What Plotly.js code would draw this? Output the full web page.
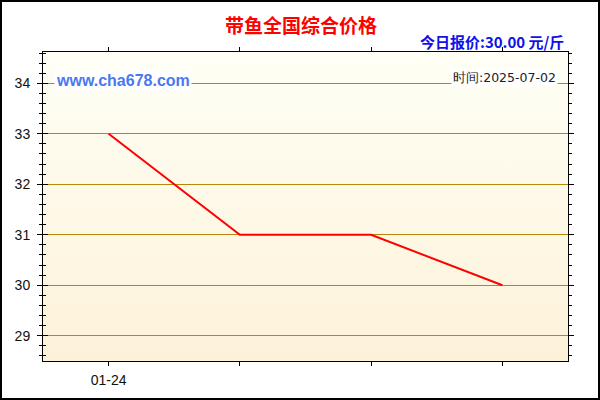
<!DOCTYPE html>
<html>
<head>
<meta charset="utf-8">
<script src="https://cdn.plot.ly/plotly-3.0.1.min.js"></script>
<style>
  html, body { margin: 0; padding: 0; background: #fff; }
  #frame { width: 600px; height: 400px; box-sizing: border-box; border: 2px solid #000; }
  #chart { width: 596px; height: 396px; }
</style>
</head>
<body>
<div id="frame"><div id="chart"></div></div>
<script>
// values
var tickLabels = ['01-24', '', '', ''];
var prices = [33, 31, 31, 30];
var titleText = '带鱼全国综合价格';
var todayText = '今日报价:30.00 元/斤';
var siteText = 'www.cha678.com';
var timeText = '时间:2025-07-02';

var xIdx = prices.map(function (_v, i) { return i; });
var yRange = [28.5, 34.62];

// pale vertical gradient behind the plot area
var bgSvg = '<svg xmlns="http://www.w3.org/2000/svg" width="10" height="100" preserveAspectRatio="none">' +
  '<defs><linearGradient id="g" x1="0" y1="0" x2="0" y2="1">' +
  '<stop offset="0" stop-color="#fffff6"/><stop offset="1" stop-color="#fdf2d9"/>' +
  '</linearGradient></defs><rect width="10" height="100" fill="url(#g)"/></svg>';

var traces = [{
  x: xIdx,
  y: prices,
  type: 'scatter',
  mode: 'lines',
  line: {color: '#ff0000', width: 2},
  hoverinfo: 'skip'
}, {
  // empty trace so the inner tick axis gets drawn
  x: [], y: [], yaxis: 'y2', type: 'scatter', mode: 'lines', hoverinfo: 'skip'
}];

var axisFont = {family: 'Liberation Sans, Arial, sans-serif', size: 14, color: '#111'};

var layout = {
  width: 596,
  height: 396,
  margin: {l: 40.5, r: 30, t: 50, b: 37, pad: 0},
  paper_bgcolor: '#ffffff',
  plot_bgcolor: 'rgba(0,0,0,0)',
  showlegend: false,
  images: [{
    source: 'data:image/svg+xml;charset=utf-8,' + encodeURIComponent(bgSvg),
    xref: 'paper', yref: 'paper',
    x: 0, y: 1, sizex: 1, sizey: 1,
    sizing: 'stretch', xanchor: 'left', yanchor: 'top',
    layer: 'below'
  }],
  xaxis: {
    range: [-0.5, 3.5],
    tickvals: xIdx,
    ticktext: tickLabels,
    showgrid: false,
    zeroline: false,
    showline: true,
    linecolor: '#000',
    linewidth: 1,
    mirror: 'ticks',
    ticks: 'outside',
    ticklen: 4,
    tickcolor: '#000',
    ticklabelstandoff: 2,
    tickfont: axisFont
  },
  yaxis: {
    range: yRange,
    dtick: 1,
    tick0: 29,
    showgrid: true,
    gridcolor: '#b8860b',
    gridwidth: 1,
    zeroline: false,
    showline: true,
    linecolor: '#000',
    linewidth: 1,
    mirror: 'ticks',
    ticks: 'outside',
    ticklen: 5,
    tickcolor: '#000',
    ticklabelstandoff: 4,
    tickfont: axisFont,
    minor: {dtick: 0.2, ticks: 'outside', ticklen: 3, tickcolor: '#000', showgrid: false}
  },
  yaxis2: {
    overlaying: 'y',
    side: 'left',
    range: yRange,
    dtick: 1,
    tick0: 29,
    showgrid: false,
    zeroline: false,
    showline: false,
    showticklabels: false,
    ticks: 'inside',
    ticklen: 5,
    tickcolor: '#000',
    minor: {dtick: 0.2, ticks: 'inside', ticklen: 3, tickcolor: '#000', showgrid: false}
  },
  annotations: [
    {
      text: '<b>' + titleText + '</b>',
      xref: 'paper', yref: 'paper', x: 0.5, y: 1.0, xshift: -5, yshift: 28,
      xanchor: 'center', yanchor: 'middle', showarrow: false,
      font: {family: 'Noto Sans CJK SC, sans-serif', size: 19, weight: 900, color: '#ff0000'}
    },
    {
      text: '<b>' + todayText + '</b>',
      xref: 'paper', yref: 'paper', x: 1, y: 1, xshift: -2, yshift: 11,
      xanchor: 'right', yanchor: 'middle', showarrow: false,
      font: {family: 'Noto Sans CJK SC, sans-serif', size: 15, weight: 900, color: '#1010e8'}
    },
    {
      text: '<b>' + siteText + '</b>',
      xref: 'paper', yref: 'paper', x: 0, y: 1, xshift: 11, yshift: -28,
      xanchor: 'left', yanchor: 'middle', showarrow: false,
      bgcolor: '#ffffff', borderpad: 1,
      font: {family: 'Liberation Sans, Arial, sans-serif', size: 16, color: '#4a78f0'}
    },
    {
      text: timeText,
      xref: 'paper', yref: 'paper', x: 1, y: 1, xshift: -10, yshift: -25,
      xanchor: 'right', yanchor: 'middle', showarrow: false,
      bgcolor: '#ffffff', borderpad: 1,
      font: {family: 'DejaVu Sans, sans-serif', size: 12.5, color: '#222'}
    }
  ]
};

Plotly.newPlot('chart', traces, layout, {staticPlot: true, displayModeBar: false});
</script>
</body>
</html>
